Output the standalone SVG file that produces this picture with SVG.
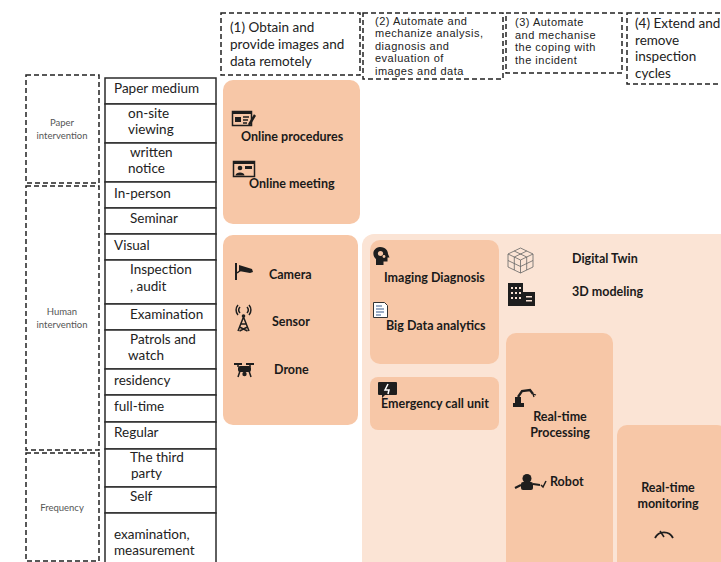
<svg xmlns="http://www.w3.org/2000/svg" width="721" height="562" viewBox="0 0 721 562">
<style>
.cell{fill:#fff;stroke:#2b2b2b;stroke-width:1.5}
.dash{fill:none;stroke:#222;stroke-width:1.5;stroke-dasharray:5 3}
.t{font-family:Lato,"Noto Sans",sans-serif;font-size:13.5px;fill:#222}
.h{font-family:Lato,"Noto Sans",sans-serif;font-size:13.5px;fill:#222}
.hc{font-family:"Liberation Sans",Arial,sans-serif;font-size:11px;letter-spacing:0.5px;fill:#222}
.b{font-family:Lato,"Noto Sans",sans-serif;font-weight:bold;font-size:12.5px;fill:#1a1a1a}
.s{font-family:Lato,"Noto Sans",sans-serif;font-size:9.5px;fill:#555}
.pd{fill:#F7C7A7}
.pl{fill:#FBE4D5}
.ic{fill:#1e1e1e}
.ics{fill:none;stroke:#1e1e1e;stroke-width:1.5}
</style>
<rect width="721" height="562" fill="#fff"/>

<g id="groups-left">
  <g id="paper-intervention">
    <rect class="dash" x="26" y="75" width="73" height="108"/>
    <text class="s" x="62" y="126" text-anchor="middle">Paper</text>
    <text class="s" x="62" y="139" text-anchor="middle">intervention</text>
  </g>
  <g id="human-intervention">
    <rect class="dash" x="26" y="186" width="73" height="264"/>
    <text class="s" x="62" y="315" text-anchor="middle">Human</text>
    <text class="s" x="62" y="327.5" text-anchor="middle">intervention</text>
  </g>
  <g id="frequency">
    <rect class="dash" x="26" y="453" width="73" height="108"/>
    <text class="s" x="62" y="511" text-anchor="middle">Frequency</text>
  </g>
</g>

<g id="table">
  <g id="row-paper-medium"><rect class="cell" x="105" y="78" width="111" height="26"/><text class="t" x="114" y="93">Paper medium</text></g>
  <g id="row-onsite"><rect class="cell" x="105" y="104" width="111" height="39"/><text class="t" x="128" y="117.5">on-site</text><text class="t" x="128" y="134">viewing</text></g>
  <g id="row-written"><rect class="cell" x="105" y="143" width="111" height="39"/><text class="t" x="130" y="156.5">written</text><text class="t" x="128" y="173">notice</text></g>
  <g id="row-inperson"><rect class="cell" x="105" y="182" width="111" height="26"/><text class="t" x="114" y="198">In-person</text></g>
  <g id="row-seminar"><rect class="cell" x="105" y="208" width="111" height="26"/><text class="t" x="130" y="223">Seminar</text></g>
  <g id="row-visual"><rect class="cell" x="105" y="234" width="111" height="26"/><text class="t" x="114" y="250">Visual</text></g>
  <g id="row-inspection"><rect class="cell" x="105" y="260" width="111" height="44"/><text class="t" x="130" y="274">Inspection</text><text class="t" x="130" y="290.5">, audit</text></g>
  <g id="row-examination"><rect class="cell" x="105" y="304" width="111" height="26"/><text class="t" x="130" y="319">Examination</text></g>
  <g id="row-patrols"><rect class="cell" x="105" y="330" width="111" height="39"/><text class="t" x="130" y="343.5">Patrols and</text><text class="t" x="128" y="360">watch</text></g>
  <g id="row-residency"><rect class="cell" x="105" y="369" width="111" height="26"/><text class="t" x="114" y="385">residency</text></g>
  <g id="row-fulltime"><rect class="cell" x="105" y="395" width="111" height="27"/><text class="t" x="114" y="411">full-time</text></g>
  <g id="row-regular"><rect class="cell" x="105" y="422" width="111" height="27"/><text class="t" x="114" y="437">Regular</text></g>
  <g id="row-thirdparty"><rect class="cell" x="105" y="449" width="111" height="38"/><text class="t" x="130" y="461.5">The third</text><text class="t" x="131" y="478">party</text></g>
  <g id="row-self"><rect class="cell" x="105" y="487" width="111" height="26"/><text class="t" x="130" y="501">Self</text></g>
  <g id="row-exam-measure"><rect class="cell" x="105" y="513" width="111" height="52"/><text class="t" x="114" y="538.5">examination,</text><text class="t" x="114" y="555">measurement</text></g>
</g>

<g id="headers">
  <g id="header-1">
    <rect class="dash" x="221" y="13" width="139" height="62"/>
    <text class="h" x="230" y="32">(1) Obtain and</text>
    <text class="h" x="230" y="49">provide images and</text>
    <text class="h" x="230" y="66">data remotely</text>
  </g>
  <g id="header-2">
    <rect class="dash" x="363" y="13" width="140" height="66"/>
    <text class="hc" x="375" y="24.5">(2) Automate and</text>
    <text class="hc" x="375" y="37">mechanize analysis,</text>
    <text class="hc" x="375" y="49.5">diagnosis and</text>
    <text class="hc" x="375" y="62">evaluation of</text>
    <text class="hc" x="375" y="74.5">images and data</text>
  </g>
  <g id="header-3">
    <rect class="dash" x="506" y="13" width="116" height="60"/>
    <text class="hc" x="515" y="26">(3) Automate</text>
    <text class="hc" x="515" y="38.5">and mechanise</text>
    <text class="hc" x="515" y="51">the coping with</text>
    <text class="hc" x="515" y="63.5">the incident</text>
  </g>
  <g id="header-4">
    <rect class="dash" x="627" y="13" width="110" height="71"/>
    <text class="h" x="635" y="28">(4) Extend and</text>
    <text class="h" x="635" y="44.5">remove</text>
    <text class="h" x="635" y="61">inspection</text>
    <text class="h" x="635" y="77.5">cycles</text>
  </g>
</g>

<g id="panel-remote-procedures">
  <rect class="pd" x="223" y="80" width="137" height="144" rx="10"/>
  <g id="icon-online-procedures">
    <rect class="ics" x="232.5" y="111.5" width="19" height="14"/>
    <rect class="ic" x="232" y="111" width="20" height="3"/>
    <rect class="ic" x="235" y="117" width="6" height="5"/>
    <path class="ics" d="M243 117h6M243 120h5M243 123h4" stroke-width="1"/>
    <path d="M249 125l6-10" stroke="#1e1e1e" stroke-width="2.5"/>
  </g>
  <text class="b" x="241" y="141">Online procedures</text>
  <g id="icon-online-meeting">
    <rect class="ics" x="233.5" y="161.5" width="21" height="15"/>
    <rect class="ic" x="233" y="161" width="22" height="3"/>
    <circle class="ic" cx="240" cy="168" r="2.3"/>
    <path class="ic" d="M235.5 175.5c0-4 9-4 9 0z"/>
    <rect class="ic" x="245" y="166" width="7" height="3"/>
  </g>
  <text class="b" x="249" y="188">Online meeting</text>
</g>

<g id="panel-sensing">
  <rect class="pd" x="223" y="235" width="135" height="190" rx="10"/>
  <g id="icon-camera">
    <rect class="ic" x="235" y="263" width="2" height="17"/>
    <path d="M237 273l4-3" stroke="#1e1e1e" stroke-width="1.5"/>
    <path class="ic" d="M239 265l13 4 1 3-3 1-11-2z"/>
  </g>
  <text class="b" x="269" y="279">Camera</text>
  <g id="icon-sensor">
    <path class="ics" d="M243.5 317l-5.5 14M243.5 317l5.5 14M240.5 324h6M239.5 327l8 4M247.5 327l-8 4" stroke-width="1.5"/>
    <circle class="ic" cx="243.5" cy="316" r="1.8"/>
    <path class="ics" d="M240 313a4.5 4.5 0 0 1 0-6M238 315a7.5 7.5 0 0 1 0-10M247 313a4.5 4.5 0 0 0 0-6M249 315a7.5 7.5 0 0 0 0-10" stroke-width="1.2"/>
  </g>
  <text class="b" x="272" y="326">Sensor</text>
  <g id="icon-drone">
    <path d="M234 364h8M246 364h8" stroke="#1e1e1e" stroke-width="2"/>
    <path d="M238 364v3M250 364v3" stroke="#1e1e1e" stroke-width="1.5"/>
    <rect class="ic" x="238" y="366" width="13" height="6" rx="2"/>
    <path class="ics" d="M240 371l-2 6M249 371l2 6" stroke-width="1.3"/>
    <circle class="ic" cx="244.5" cy="374" r="2.2"/>
  </g>
  <text class="b" x="274" y="374">Drone</text>
</g>

<g id="panel-automation">
  <rect class="pl" x="362" y="234" width="370" height="340" rx="12"/>

  <g id="box-analysis">
    <rect class="pd" x="370" y="240" width="129" height="124" rx="10"/>
    <g id="icon-head">
      <path class="ic" d="M376 265v-6c-4-3-4-11 4-12c6 0 8 4 8 7l1.5 3.5h-2v4h-4v3.5z"/>
      <circle cx="380.5" cy="253.5" r="2.6" fill="#F7C7A7"/>
      <circle cx="384" cy="256.5" r="1.4" fill="#F7C7A7"/>
    </g>
    <text class="b" x="384" y="282">Imaging Diagnosis</text>
    <g id="icon-document">
      <path d="M373.5 302.5h11l3 3v12h-14z" fill="#fff" stroke="#333" stroke-width="1"/>
      <path d="M376 306h6M376 309h8M376 312h8M376 315h5" stroke="#3a5a8a" stroke-width="1"/>
    </g>
    <text class="b" x="386" y="330">Big Data analytics</text>
  </g>

  <g id="box-emergency">
    <rect class="pd" x="370" y="377" width="129" height="53" rx="8"/>
    <g id="icon-alert">
      <path class="ic" d="M379 382h17a1 1 0 0 1 1 1v11a1 1 0 0 1-1 1h-11l-3 3v-3h-3a1 1 0 0 1-1-1v-11a1 1 0 0 1 1-1z"/>
      <path d="M388 384l-3 6h4l-1 4" fill="none" stroke="#fff" stroke-width="1.5"/>
    </g>
    <text class="b" x="381" y="408">Emergency call unit</text>
  </g>

  <g id="item-digital-twin">
    <g id="icon-cube" fill="none" stroke="#666" stroke-width="0.8">
      <path d="M520.5 248l12.5 6v13l-12.5 6l-12.5-6v-13z"/>
      <path d="M508 254l12.5 6l12.5-6M520.5 260v13"/>
      <path d="M514.2 251l12.5 6v13M526.8 251l-12.5 6v13M508 260.5l12.5 6l12.5-6"/>
    </g>
    <text class="b" x="572" y="263">Digital Twin</text>
  </g>
  <g id="item-3d-modeling">
    <g id="icon-building">
      <rect class="ic" x="508" y="283" width="15" height="23"/>
      <rect class="ic" x="523" y="292" width="12" height="14"/>
      <path d="M511 287h2v2h-2zM515 287h2v2h-2zM519 287h2v2h-2zM511 292h2v2h-2zM515 292h2v2h-2zM519 292h2v2h-2zM511 297h2v2h-2zM515 297h2v2h-2zM519 297h2v2h-2zM526 296h6v1.5h-6zM526 300h6v1.5h-6z" fill="#FBE4D5"/>
    </g>
    <text class="b" x="572" y="296">3D modeling</text>
  </g>

  <g id="box-realtime-processing">
    <rect class="pd" x="506" y="333" width="107" height="240" rx="10"/>
    <g id="icon-robot-arm">
      <rect class="ic" x="513" y="403" width="11" height="4"/>
      <path class="ic" d="M515 403v-6h6v6z"/>
      <path d="M518 397l4-6l8-1l3 4" fill="none" stroke="#1e1e1e" stroke-width="2.3"/>
      <path d="M533 394l3 1M533 394l1 3" fill="none" stroke="#1e1e1e" stroke-width="1.3"/>
    </g>
    <text class="b" x="560" y="421" text-anchor="middle">Real-time</text>
    <text class="b" x="560" y="437" text-anchor="middle">Processing</text>
    <g id="icon-robot">
      <circle class="ic" cx="527" cy="478.5" r="4.5"/>
      <rect class="ic" x="521" y="482" width="12" height="8" rx="2"/>
      <path d="M521 485l-6 3M533 484l7 1" stroke="#1e1e1e" stroke-width="2.2"/>
      <path d="M541 485l2 2l3-6" fill="none" stroke="#1e1e1e" stroke-width="1.5"/>
    </g>
    <text class="b" x="550" y="486">Robot</text>
  </g>

  <g id="box-realtime-monitoring">
    <rect class="pd" x="617" y="425" width="110" height="150" rx="10"/>
    <text class="b" x="668" y="492" text-anchor="middle">Real-time</text>
    <text class="b" x="668" y="508" text-anchor="middle">monitoring</text>
    <g id="icon-gauge">
      <path d="M655 538a10 10 0 0 1 18 0" fill="none" stroke="#1e1e1e" stroke-width="1.8"/>
      <path d="M664 537l-4-6" stroke="#1e1e1e" stroke-width="1.5"/>
    </g>
  </g>
</g>

<g id="connectors"/>
</svg>
